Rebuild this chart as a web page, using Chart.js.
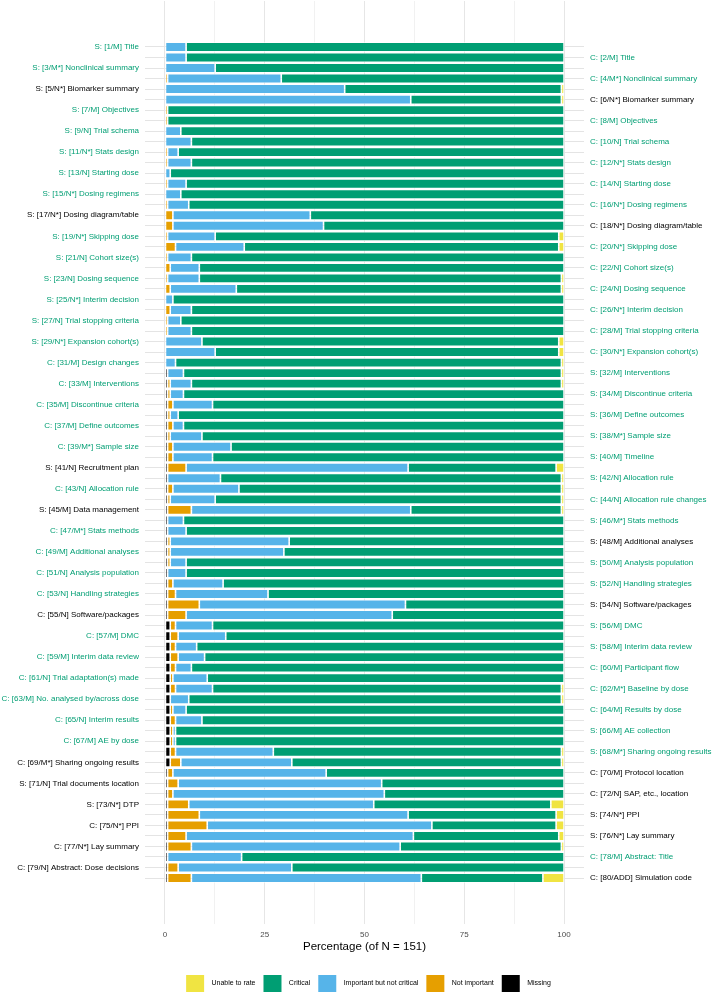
<!DOCTYPE html>
<html>
<head>
<meta charset="utf-8">
<script src="https://cdn.jsdelivr.net/npm/chart.js@4.4.1/dist/chart.umd.min.js"></script>
<style>
  html, body { margin: 0; padding: 0; background: #fff; }
</style>
</head>
<body>
<canvas id="chart" width="715" height="993"></canvas>
<script>
// respondents
var N = 151;

var items = [
  "S: [1/M] Title", "C: [2/M] Title", "S: [3/M*] Nonclinical summary", "C: [4/M*] Nonclinical summary", "S: [5/N*] Biomarker summary",
  "C: [6/N*] Biomarker summary", "S: [7/M] Objectives", "C: [8/M] Objectives", "S: [9/N] Trial schema", "C: [10/N] Trial schema",
  "S: [11/N*] Stats design", "C: [12/N*] Stats design", "S: [13/N] Starting dose", "C: [14/N] Starting dose", "S: [15/N*] Dosing regimens",
  "C: [16/N*] Dosing regimens", "S: [17/N*] Dosing diagram/table", "C: [18/N*] Dosing diagram/table", "S: [19/N*] Skipping dose", "C: [20/N*] Skipping dose",
  "S: [21/N] Cohort size(s)", "C: [22/N] Cohort size(s)", "S: [23/N] Dosing sequence", "C: [24/N] Dosing sequence", "S: [25/N*] Interim decision",
  "C: [26/N*] Interim decision", "S: [27/N] Trial stopping criteria", "C: [28/M] Trial stopping criteria", "S: [29/N*] Expansion cohort(s)", "C: [30/N*] Expansion cohort(s)",
  "C: [31/M] Design changes", "S: [32/M] Interventions", "C: [33/M] Interventions", "S: [34/M] Discontinue criteria", "C: [35/M] Discontinue criteria",
  "S: [36/M] Define outcomes", "C: [37/M] Define outcomes", "S: [38/M*] Sample size", "C: [39/M*] Sample size", "S: [40/M] Timeline",
  "S: [41/N] Recruitment plan", "S: [42/N] Allocation rule", "C: [43/N] Allocation rule", "C: [44/N] Allocation rule changes", "S: [45/M] Data management",
  "S: [46/M*] Stats methods", "C: [47/M*] Stats methods", "S: [48/M] Additional analyses", "C: [49/M] Additional analyses", "S: [50/M] Analysis population",
  "C: [51/N] Analysis population", "S: [52/N] Handling strategies", "C: [53/N] Handling strategies", "S: [54/N] Software/packages", "C: [55/N] Software/packages",
  "S: [56/M] DMC", "C: [57/M] DMC", "S: [58/M] Interim data review", "C: [59/M] Interim data review", "C: [60/M] Participant flow",
  "C: [61/N] Trial adaptation(s) made", "C: [62/M*] Baseline by dose", "C: [63/M] No. analysed by/across dose", "C: [64/M] Results by dose", "C: [65/N] Interim results",
  "S: [66/M] AE collection", "C: [67/M] AE by dose", "S: [68/M*] Sharing ongoing results", "C: [69/M*] Sharing ongoing results", "C: [70/M] Protocol location",
  "S: [71/N] Trial documents location", "C: [72/N] SAP, etc., location", "S: [73/N*] DTP", "S: [74/N*] PPI", "C: [75/N*] PPI",
  "S: [76/N*] Lay summary", "C: [77/N*] Lay summary", "C: [78/M] Abstract: Title", "C: [79/N] Abstract: Dose decisions", "C: [80/ADD] Simulation code"
];

// counts of respondents per rating, item 1..80
var missing = [
  0, 0, 0, 0, 0, 0, 0, 0, 0, 0,
  0, 0, 0, 0, 0, 0, 0, 0, 0, 0,
  0, 0, 0, 0, 0, 0, 0, 0, 0, 0,
  0, 1, 1, 1, 1, 1, 1, 1, 1, 1,
  1, 1, 1, 1, 1, 1, 1, 1, 1, 1,
  1, 1, 1, 1, 1, 2, 2, 2, 2, 2,
  2, 2, 2, 2, 2, 2, 2, 2, 2, 1,
  1, 1, 1, 1, 1, 1, 1, 1, 1, 1
];
var notImportant = [
  0, 0, 0, 1, 0, 0, 1, 1, 0, 0,
  1, 1, 0, 1, 0, 1, 3, 3, 1, 4,
  1, 2, 1, 2, 0, 2, 1, 1, 0, 0,
  0, 0, 1, 1, 2, 1, 2, 1, 2, 2,
  7, 0, 2, 1, 9, 0, 0, 1, 1, 1,
  0, 2, 3, 12, 7, 2, 3, 2, 3, 2,
  1, 2, 0, 1, 2, 1, 1, 2, 4, 2,
  4, 2, 8, 12, 15, 7, 9, 0, 4, 9
];
var importantNotCritical = [
  8, 8, 19, 43, 68, 93, 0, 0, 6, 10,
  4, 9, 2, 7, 6, 8, 52, 57, 18, 26,
  9, 11, 12, 25, 3, 8, 5, 9, 14, 19,
  4, 6, 8, 5, 15, 3, 4, 12, 22, 15,
  84, 20, 25, 17, 83, 6, 7, 45, 43, 6,
  7, 19, 35, 78, 78, 14, 18, 8, 10, 6,
  13, 14, 7, 5, 10, 1, 1, 37, 42, 58,
  77, 80, 70, 79, 85, 86, 79, 28, 43, 87
];
var critical = [
  143, 143, 132, 107, 82, 57, 150, 150, 145, 141,
  146, 141, 149, 143, 145, 142, 96, 91, 130, 119,
  141, 138, 137, 123, 148, 141, 145, 141, 135, 130,
  146, 143, 140, 144, 133, 146, 144, 137, 126, 133,
  56, 129, 122, 131, 57, 144, 143, 104, 106, 143,
  143, 129, 112, 60, 65, 133, 128, 139, 136, 141,
  135, 132, 141, 143, 137, 147, 147, 109, 102, 90,
  69, 68, 67, 56, 47, 55, 61, 122, 103, 46
];
var unableToRate = [
  0, 0, 0, 0, 1, 1, 0, 0, 0, 0,
  0, 0, 0, 0, 0, 0, 0, 0, 2, 2,
  0, 0, 1, 1, 0, 0, 0, 0, 2, 2,
  1, 1, 1, 0, 0, 0, 0, 0, 0, 0,
  3, 1, 1, 1, 1, 0, 0, 0, 0, 0,
  0, 0, 0, 0, 0, 0, 0, 0, 0, 0,
  0, 1, 1, 0, 0, 0, 0, 1, 1, 0,
  0, 0, 5, 3, 3, 2, 1, 0, 0, 8
];

var xTicks = [0, 12.5, 25, 37.5, 50, 62.5, 75, 87.5, 100];

// items whose label is printed in black instead of green
var blackLabelItems = [5, 6, 17, 18, 41, 45, 48, 54, 55, 69, 70, 71, 72, 73, 74, 75, 76, 77, 79, 80];

var FONT = "'Liberation Sans', Arial, Helvetica, sans-serif";
var LEGEND_SHIFT = 11;

function toPoints(counts) {
  return counts.map(function (c, i) {
    return { x: c / N * 100, y: i + 1 };
  });
}

function makeSet(label, counts, color) {
  return {
    label: label,
    data: toPoints(counts),
    backgroundColor: color,
    borderColor: '#ffffff',
    borderWidth: 0.8,
    borderSkipped: false,
    barPercentage: 0.9,
    categoryPercentage: 1.0
  };
}

function labelColor(ctx) {
  var v = ctx.tick ? ctx.tick.value : 0;
  return blackLabelItems.indexOf(v) >= 0 ? '#000000' : '#009E73';
}

// no extra room above/below for half tick labels
function fitY(width) {
  return function (scale) {
    scale.width = width;
    scale.paddingTop = 0;
    scale.paddingBottom = 0;
  };
}

var legendShift = {
  id: 'legendShift',
  afterLayout: function (chart) {
    if (chart.legend) {
      chart.legend.left += LEGEND_SHIFT;
      chart.legend.right += LEGEND_SHIFT;
    }
  }
};

var ctx = document.getElementById('chart').getContext('2d');
var chart = new Chart(ctx, {
  type: 'bar',
  data: {
    datasets: [
      makeSet('Missing', missing, '#000000'),
      makeSet('Not important', notImportant, '#E69F00'),
      makeSet('Important but not critical', importantNotCritical, '#56B4E9'),
      makeSet('Critical', critical, '#009E73'),
      makeSet('Unable to rate', unableToRate, '#F0E442')
    ]
  },
  plugins: [legendShift],
  options: {
    indexAxis: 'y',
    responsive: false,
    animation: false,
    layout: { padding: { top: 1, bottom: 0, left: 0, right: 0 } },
    plugins: {
      tooltip: { enabled: false },
      legend: {
        position: 'bottom',
        reverse: true,
        maxHeight: 26,
        labels: {
          boxWidth: 18,
          boxHeight: 17,
          padding: 8,
          color: '#000000',
          font: { family: FONT, size: 7 },
          generateLabels: function (chart) {
            var base = Chart.defaults.plugins.legend.labels.generateLabels(chart);
            base.forEach(function (l) {
              l.text = '  ' + l.text;
              l.strokeStyle = 'rgba(0,0,0,0)';
              l.lineWidth = 0;
            });
            return base;
          }
        }
      }
    },
    scales: {
      x: {
        type: 'linear',
        stacked: true,
        min: -5,
        max: 105,
        afterBuildTicks: function (scale) {
          scale.ticks = xTicks.map(function (v) { return { value: v }; });
        },
        afterFit: function (scale) { scale.height = 43; },
        grid: {
          drawTicks: false,
          color: function (c) { return (c.tick && c.tick.value % 25 === 0) ? '#e6e6e6' : '#f1f1f1'; },
          lineWidth: 1
        },
        border: { display: false },
        ticks: {
          autoSkip: false,
          maxRotation: 0,
          padding: 6,
          color: '#4d4d4d',
          font: { family: FONT, size: 8 },
          callback: function (v) { return v % 25 === 0 ? String(v) : ''; }
        },
        title: {
          display: true,
          text: 'Percentage (of N = 151)',
          color: '#000000',
          font: { family: FONT, size: 11.5 },
          padding: { top: 0, bottom: 13 }
        }
      },
      y: {
        type: 'linear',
        position: 'left',
        stacked: true,
        reverse: true,
        offset: false,
        min: -3.37,
        max: 84.37,
        afterBuildTicks: function (scale) {
          scale.ticks = items.map(function (_, i) { return { value: i + 1 }; });
        },
        afterFit: fitY(145),
        grid: { offset: false, drawTicks: false, color: '#e4e4e4', lineWidth: 1 },
        border: { display: false },
        ticks: {
          autoSkip: false,
          padding: 6,
          color: labelColor,
          font: { family: FONT, size: 8, lineHeight: 0.1 },
          callback: function (v) { return v % 2 === 1 ? items[v - 1] : ''; }
        }
      },
      y2: {
        type: 'linear',
        position: 'right',
        reverse: true,
        offset: false,
        min: -3.37,
        max: 84.37,
        afterBuildTicks: function (scale) {
          scale.ticks = items.map(function (_, i) { return { value: i + 1 }; });
        },
        afterFit: fitY(131),
        grid: { display: false, offset: false, drawTicks: false },
        border: { display: false },
        ticks: {
          autoSkip: false,
          padding: 6,
          color: labelColor,
          font: { family: FONT, size: 8, lineHeight: 0.1 },
          callback: function (v) { return v % 2 === 0 ? items[v - 1] : ''; }
        }
      }
    }
  }
});
</script>
</body>
</html>
